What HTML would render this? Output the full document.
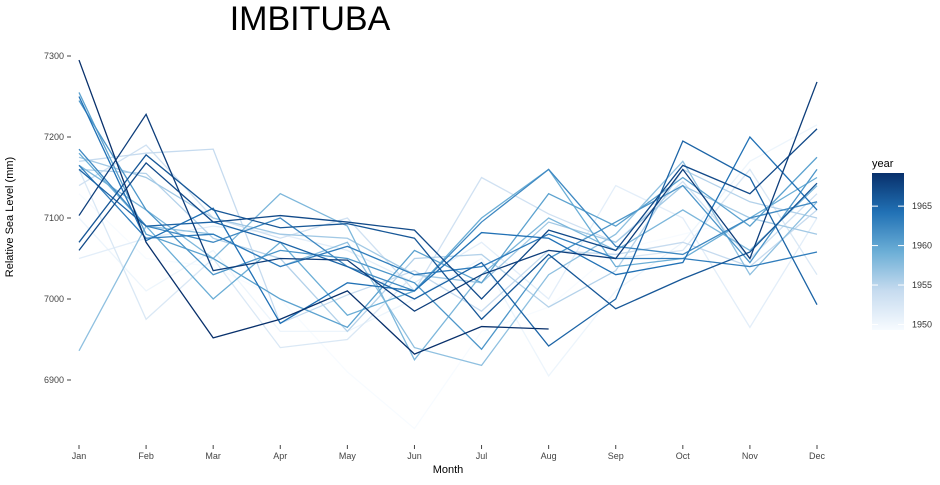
<!DOCTYPE html>
<html><head><meta charset="utf-8"><style>
body{margin:0;background:#fff;font-family:"Liberation Sans",sans-serif}
</style></head><body>
<svg id="chart" width="940" height="480" xmlns="http://www.w3.org/2000/svg">
<defs><linearGradient id="cb" x1="0" y1="1" x2="0" y2="0">
<stop offset="0" stop-color="#f7fbff"/><stop offset="0.25" stop-color="#c6dbef"/><stop offset="0.5" stop-color="#6baed6"/><stop offset="0.75" stop-color="#2171b5"/><stop offset="1" stop-color="#08306b"/></linearGradient></defs>
<text x="310" y="30" font-size="34" text-anchor="middle">IMBITUBA</text>
<g id="axes"></g><g id="lines"></g>
<text x="448" y="473" font-size="11" text-anchor="middle">Month</text>
<text transform="translate(13,217) rotate(-90)" font-size="11" text-anchor="middle">Relative Sea Level (mm)</text>
<text x="872" y="167" font-size="11">year</text>
<rect x="872" y="173" width="32" height="157" fill="url(#cb)"/>
<g id="legend"></g>
</svg>
<script>
const months=["Jan","Feb","Mar","Apr","May","Jun","Jul","Aug","Sep","Oct","Nov","Dec"];
const yTicks=[6900,7000,7100,7200,7300];
const legendYears=[1950,1955,1960,1965];
const years=[1949,1950,1951,1952,1953,1954,1955,1956,1957,1958,1959,1960,1961,1962,1963,1964,1965,1966,1967,1968,1969];
const levels=[
[7130,7050,7040,7000,6910,6840,6960,6990,7060,7080,7100,7120],
[7100,7010,7060,6960,6960,7000,7050,6905,7010,7070,7170,7215],
[7050,7075,7090,7080,7060,7020,7070,7000,7140,7100,6965,7100],
[7160,6975,7050,6940,6950,7030,7040,7080,7050,7060,7160,7030],
[7140,7190,7100,7075,7100,7010,7150,7105,7070,7145,7050,7130],
[7170,7180,7185,6970,7005,7035,6985,7060,7055,7070,7040,7110],
[7160,7155,7075,7050,6960,7050,7055,6990,7035,7160,7120,7100],
[7175,7150,7100,7080,7075,7030,7020,7095,7070,7140,7100,7080],
[6936,7090,7080,7040,7070,6940,6918,7030,7080,7170,7030,7120],
[7165,7110,7050,7130,7090,6925,7030,7100,7060,7110,7060,7140],
[7180,7090,7000,7070,6980,7010,7100,7160,7040,7050,7100,7150],
[7255,7080,7050,7000,6965,7060,7020,7130,7090,7150,7090,7175],
[7245,7110,7030,7060,7050,7020,6938,7050,7095,7140,7045,7160],
[7185,7090,7070,7100,7040,7010,7095,7160,7065,7055,7100,7120],
[7165,7075,7080,7040,7065,7030,7040,7080,7050,7050,7040,7058],
[7250,7072,7112,6970,7020,7010,7082,7075,7030,7045,7200,7110],
[7160,7090,7095,7070,7040,7000,7045,6942,7000,7195,7150,6993],
[7070,7178,7110,7088,7093,7075,6975,7055,6988,7025,7058,7143],
[7060,7168,7095,7103,7095,7085,7000,7085,7060,7165,7130,7210],
[7103,7228,7035,7050,7048,6985,7030,7060,7050,7160,7050,7268],
[7295,7070,6952,6975,7010,6932,6966,6963,null,null,null,null]
];
const NS="http://www.w3.org/2000/svg";
const xS=i=>79+i*(817-79)/11;
const yS=v=>56+(7300-v)*0.81;
const yearY=y=>330-(y-1949.3)*(157/19.9);
function mk(t,a,p){const e=document.createElementNS(NS,t);for(const k in a)e.setAttribute(k,a[k]);p.appendChild(e);return e;}
const ax=document.getElementById('axes');
yTicks.forEach(v=>{
 const t=mk('text',{x:64,y:yS(v)+3,'font-size':9,'text-anchor':'end',fill:'#444'},ax);t.textContent=v;
 
 
 mk('line',{x1:67,x2:71,y1:yS(v),y2:yS(v),stroke:'#444'},ax);
});
months.forEach((m,i)=>{
 mk('line',{x1:xS(i),x2:xS(i),y1:445,y2:449,stroke:'#444'},ax);
 const t=mk('text',{x:xS(i),y:459,'font-size':9,'text-anchor':'middle',fill:'#444'},ax);t.textContent=m;
 
 
});
const stops=[[0,[247,251,255]],[0.25,[198,219,239]],[0.5,[107,174,214]],[0.75,[33,113,181]],[1,[8,48,107]]];
function col(f){for(let i=0;i<4;i++){const a=stops[i],b=stops[i+1];if(f<=b[0]){const u=(f-a[0])/(b[0]-a[0]);return 'rgb('+a[1].map((c,j)=>Math.round(c+(b[1][j]-c)*u)).join(',')+')';}}return 'rgb(8,48,107)';}
const lg=document.getElementById('lines');
years.forEach((yr,k)=>{
 const pts=[];levels[k].forEach((v,i)=>{if(v!=null)pts.push(xS(i)+','+yS(v));});
 const p=mk('polyline',{points:pts.join(' '),fill:'none',stroke:col((yr-1949)/20),'stroke-width':1.3},lg);
 
 
});
const le=document.getElementById('legend');
legendYears.forEach(y=>{
 const yy=yearY(y);
 mk('line',{x1:872,x2:878,y1:yy,y2:yy,stroke:'#fff'},le);
 mk('line',{x1:898,x2:904,y1:yy,y2:yy,stroke:'#fff'},le);
 const t=mk('text',{x:912,y:yy+3,'font-size':9,fill:'#333'},le);t.textContent=y;
 
 
});
</script>
</body></html>
